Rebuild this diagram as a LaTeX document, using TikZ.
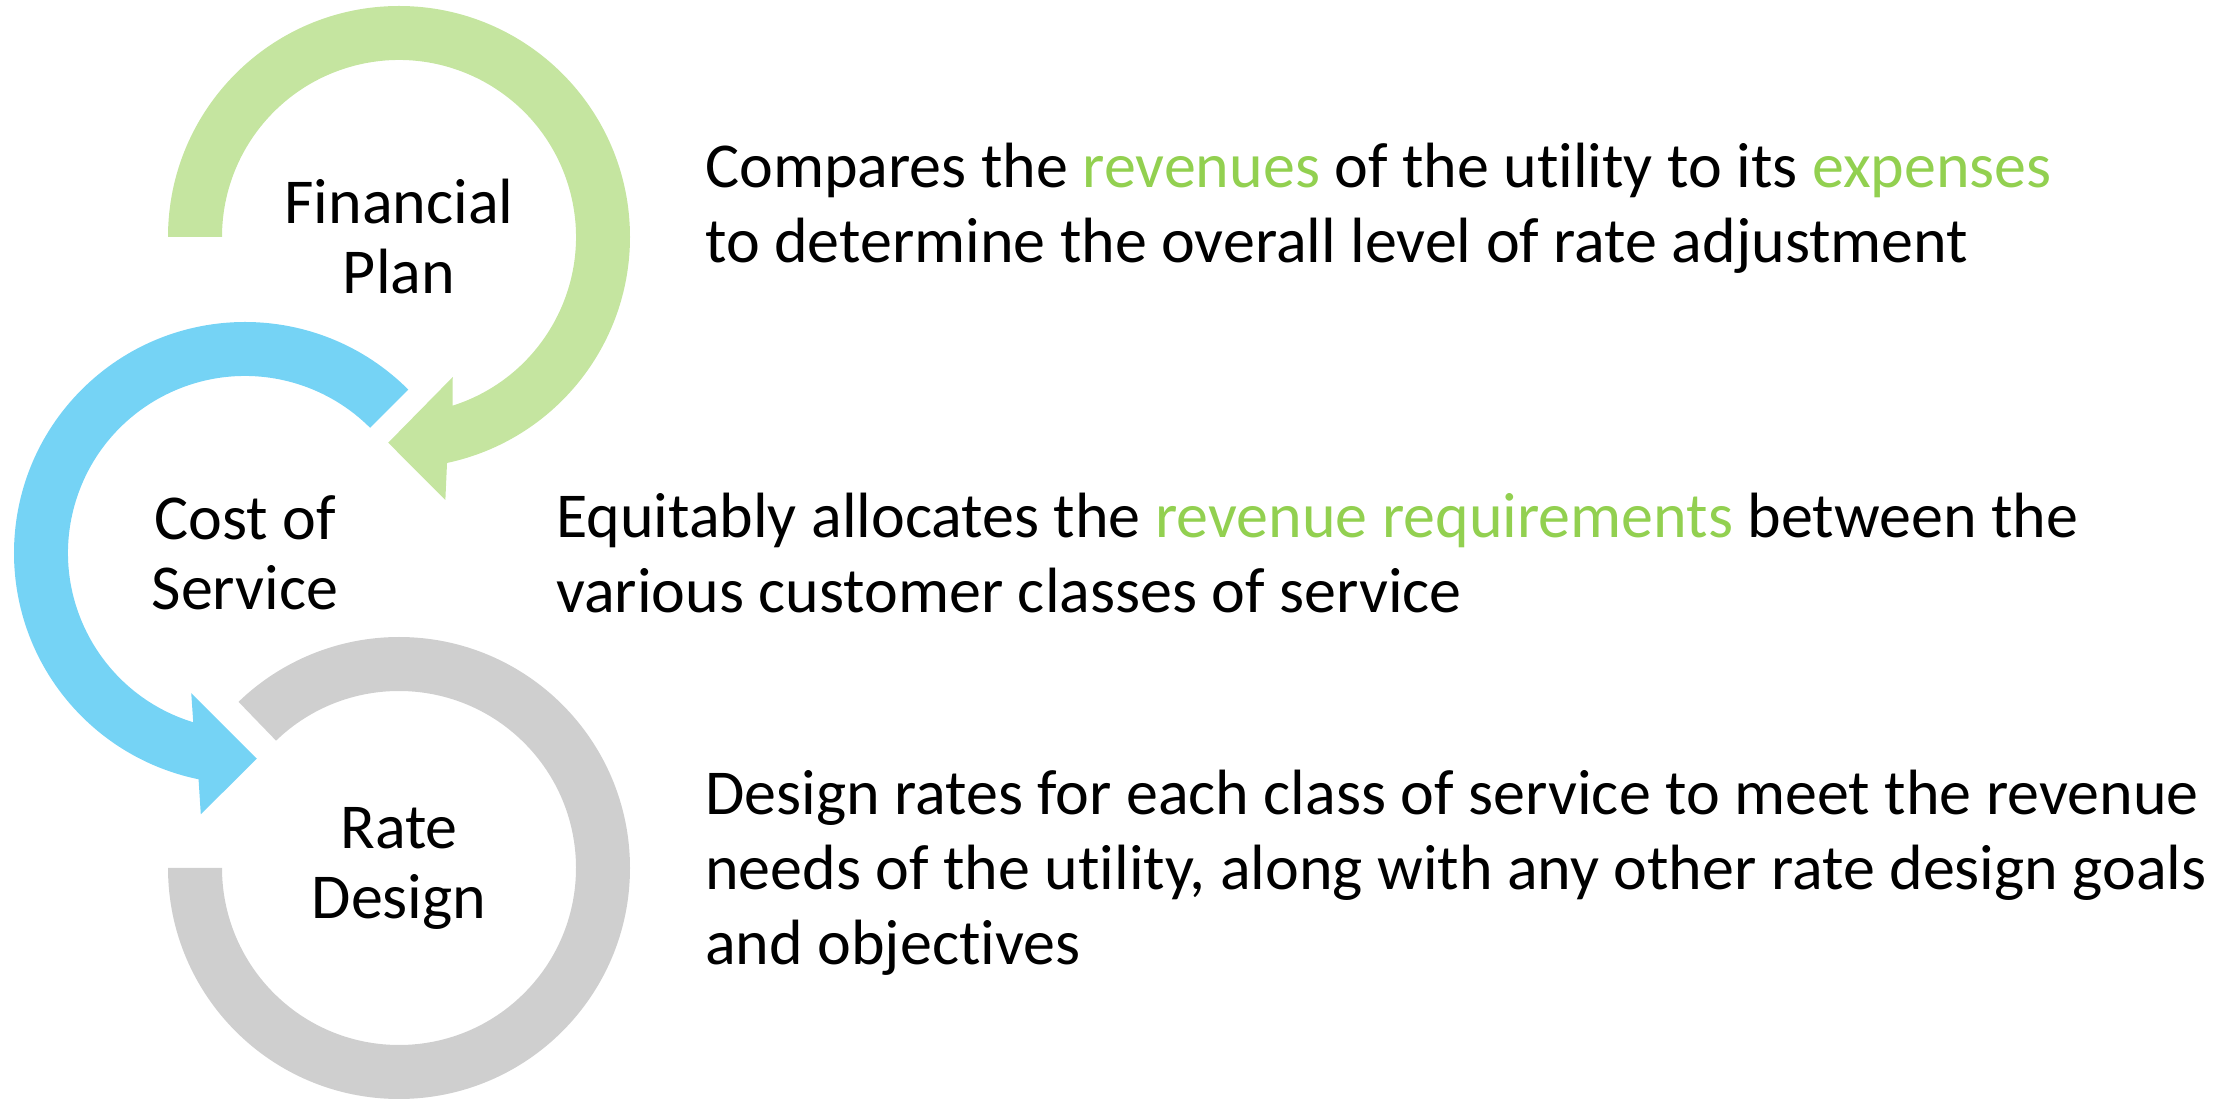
\documentclass[tikz,border=0pt]{standalone}
\usepackage{fontspec}
\setmainfont{Carlito}[Ligatures=NoCommon]
\usetikzlibrary{calc}
\definecolor{ringgreen}{RGB}{197,229,160}
\definecolor{ringblue}{RGB}{117,211,245}
\definecolor{ringgray}{RGB}{207,207,207}
\definecolor{wordgreen}{RGB}{146,208,80}
\newcommand{\hl}[1]{\textcolor{wordgreen}{#1}}
\def\ringout{231pt}
\def\ringin{177pt}

\begin{document}
\begin{tikzpicture}[x=1pt,y=1pt,
    steplabel/.style={align=center,inner sep=0pt,font=\fontsize{64}{70}\selectfont},
    stepnote/.style={align=left,anchor=base west,inner sep=0pt,font=\fontsize{64}{75}\selectfont}]
\useasboundingbox (0,0) rectangle (2227,1098);
% Centres of the rings
        \coordinate (fp) at (399,861);
        \coordinate (cs) at (245,545);
        \coordinate (rd) at (399,230);
% Draw the green arrow
        \fill[ringgreen] ($(fp)+(180:\ringout)$)
          arc[start angle=180,end angle=-78,radius=\ringout]
          -- ($(fp)+(-80:267pt)$) -- ($(fp)+(-93:206pt)$)
          -- ($(fp)+(-69:150pt)$) -- ($(fp)+(-72.4:\ringin)$)
          arc[start angle=-72.4,end angle=180,radius=\ringin] -- cycle;
% Draw the blue arrow
        \fill[ringblue] ($(cs)+(45:\ringout)$)
          arc[start angle=45,end angle=258.4,radius=\ringout]
          -- ($(cs)+(260.4:265pt)$) -- ($(cs)+(273.3:206pt)$)
          -- ($(cs)+(249:150pt)$) -- ($(cs)+(253:\ringin)$)
          arc[start angle=253,end angle=45,radius=\ringin] -- cycle;
% Draw the gray ring
        \fill[ringgray] ($(rd)+(180:\ringout)$)
          arc[start angle=180,end angle=494,radius=\ringout]
          -- ($(rd)+(134:\ringin)$)
          arc[start angle=134,end angle=-180,radius=\ringin] -- cycle;
% Draw nodes
        \node[steplabel] (fplabel) at (fp) {Financial\\Plan};
        \node[steplabel] (cslabel) at (cs) {Cost of\\Service};
        \node[steplabel] (rdlabel) at (rd) {Rate\\Design};

        % base west sits on the last line
        \node[stepnote] (fpnote) at (705,835)
          {Compares the \hl{revenues} of the utility to its \hl{expenses}\\
           to determine the overall level of rate adjustment};
        \node[stepnote] (csnote) at (556,485)
          {Equitably allocates the \hl{revenue requirements} between the\\
           various customer classes of service};
        \node[stepnote] (rdnote) at (705,134)
          {Design rates for each class of service to meet the revenue\\
           needs of the utility, along with any other rate design goals\\
           and objectives};
\end{tikzpicture}
\end{document}
